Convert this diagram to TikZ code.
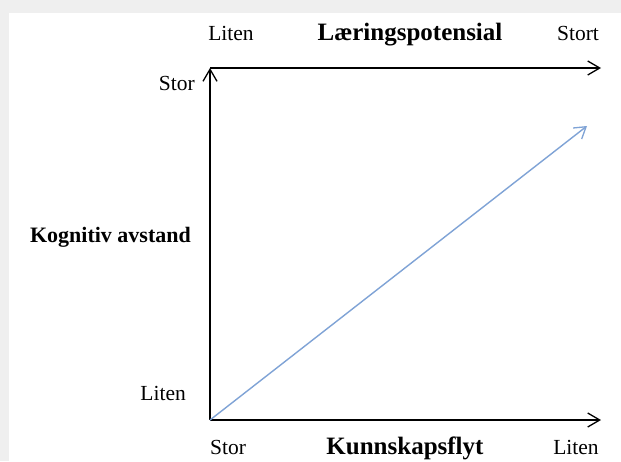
\documentclass[tikz,border=0pt]{standalone}
\usepackage{fontspec}
\setmainfont{Liberation Serif}
\usetikzlibrary{arrows.meta}
\definecolor{frame}{HTML}{EFEFEF}
\definecolor{diag}{HTML}{7FA3D6}
\tikzset{
  lbl/.style={inner sep=0pt, font=\fontsize{21.5}{25}\selectfont},
  ttl/.style={inner sep=0pt, font=\fontsize{25}{29}\selectfont\bfseries},
  ttlsmall/.style={inner sep=0pt, font=\fontsize{22}{26}\selectfont\bfseries},
  axis/.style={line width=1.4pt, -{Straight Barb[length=12pt,width=14pt,line width=1.3pt]}},
  diagline/.style={diag, line width=1.4pt, -{Straight Barb[length=11pt,width=14pt,line width=1.3pt]}}
}
\begin{document}
\begin{tikzpicture}[x=1pt,y=-1pt]
\useasboundingbox (0,0) rectangle (621,461);
\fill[frame] (0,0) rectangle (621,461);
\fill[white] (9,13) rectangle (621,461);
\coordinate (O) at (210,420);
\coordinate (TL) at (210,68);
\coordinate (TR) at (601,68);
\coordinate (BR) at (601,420);
\coordinate (D) at (587,126);
\draw[axis] (O) -- (TL);
\draw[axis] (TL) -- (TR);
\draw[axis] (O) -- (BR);
\draw[diagline] (O) -- (D);
\node[lbl, anchor=base] (tliten) at (231,40) {Liten};
\node[ttl, anchor=base] (tlp) at (410,40) {Læringspotensial};
\node[lbl, anchor=base] (tstort) at (578,40) {Stort};
\node[lbl, anchor=base east] (lstor) at (195,90) {Stor};
\node[ttlsmall, anchor=base east] (lka) at (191,242) {Kognitiv avstand};
\node[lbl, anchor=base east] (lliten) at (186,400) {Liten};
\node[lbl, anchor=base] (bstor) at (228,454) {Stor};
\node[ttl, anchor=base] (bkf) at (405,454) {Kunnskapsflyt};
\node[lbl, anchor=base] (bliten) at (576,454) {Liten};
\end{tikzpicture}
\end{document}
